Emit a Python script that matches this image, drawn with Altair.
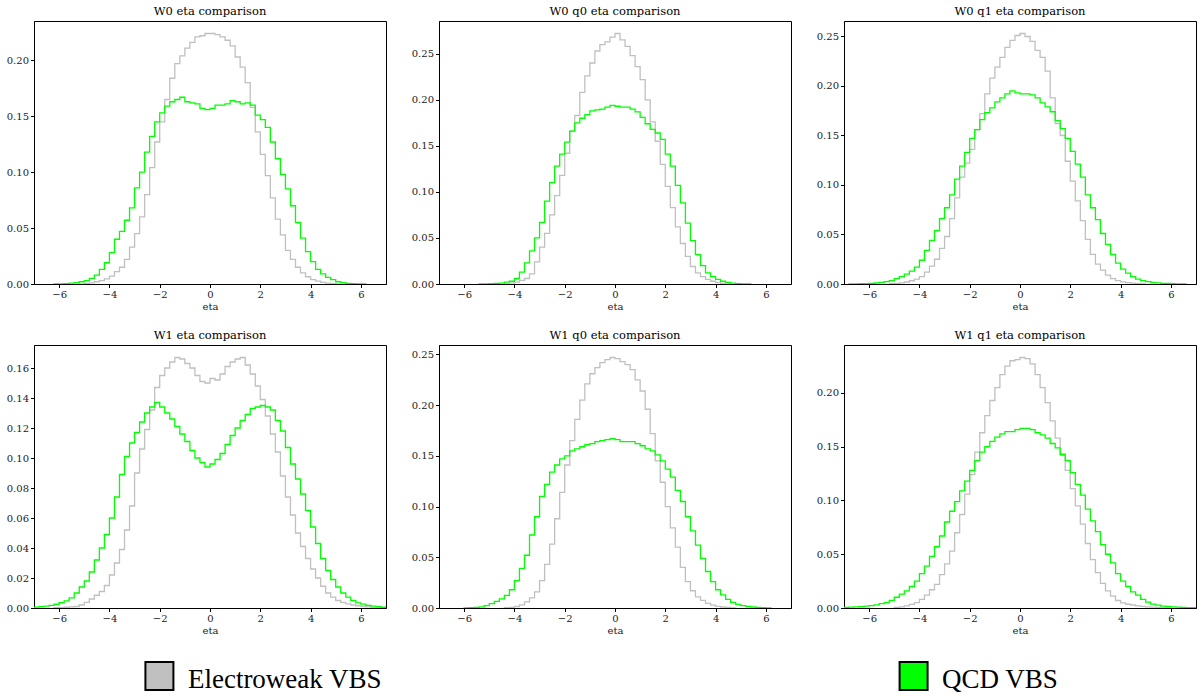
import altair as alt
import pandas as pd

# ---------------- data ----------------
BIN_START = -7.0
BIN_WIDTH = 0.2

PANEL_TITLES = [
    "W0 eta comparison", "W0 q0 eta comparison", "W0 q1 eta comparison",
    "W1 eta comparison", "W1 q0 eta comparison", "W1 q1 eta comparison",
]
SERIES = ["Electroweak VBS", "QCD VBS"]
COLORS = ["#c0c0c0", "#00ff00"]
X_TICKS = [-6, -4, -2, 0, 2, 4, 6]
Y_TICKS = [
    [0.0, 0.05, 0.10, 0.15, 0.20],
    [0.0, 0.05, 0.10, 0.15, 0.20, 0.25],
    [0.0, 0.05, 0.10, 0.15, 0.20, 0.25],
    [0.0, 0.02, 0.04, 0.06, 0.08, 0.10, 0.12, 0.14, 0.16],
    [0.0, 0.05, 0.10, 0.15, 0.20, 0.25],
    [0.0, 0.05, 0.10, 0.15, 0.20],
]

# 70 bins of width 0.2 from -7 to 7 (rows of 10 bins)
ew_w0 = [
    0, 0, 0, 0, 0, 0, 0, 0, 0, 0.0002,
    0.0005, 0.001, 0.002, 0.003, 0.0045, 0.007, 0.011, 0.015, 0.022, 0.033,
    0.045, 0.060, 0.080, 0.104, 0.127, 0.145, 0.165, 0.184, 0.197, 0.204,
    0.211, 0.216, 0.221, 0.222, 0.224, 0.224, 0.223, 0.221, 0.218, 0.213,
    0.203, 0.194, 0.180, 0.158, 0.136, 0.116, 0.097, 0.077, 0.058, 0.044,
    0.030, 0.022, 0.015, 0.010, 0.0065, 0.004, 0.0025, 0.0015, 0.0008, 0.0004,
    0.0002, 0, 0, 0, 0, 0, 0, 0, 0, 0,
]
qcd_w0 = [
    0, 0, 0, 0, 0.0001, 0.0002, 0.0004, 0.0007, 0.0012, 0.002,
    0.003, 0.005, 0.008, 0.013, 0.019, 0.028, 0.040, 0.047, 0.057, 0.068,
    0.086, 0.100, 0.118, 0.132, 0.145, 0.153, 0.159, 0.163, 0.165, 0.167,
    0.163, 0.162, 0.161, 0.157, 0.156, 0.157, 0.160, 0.160, 0.161, 0.164,
    0.163, 0.161, 0.162, 0.160, 0.151, 0.147, 0.140, 0.127, 0.112, 0.098,
    0.085, 0.070, 0.055, 0.041, 0.029, 0.020, 0.013, 0.009, 0.006, 0.004,
    0.002, 0.0012, 0.0006, 0.0003, 0.0002, 0.0001, 0, 0, 0, 0,
]
ew_w0q0 = [
    0, 0, 0, 0, 0, 0, 0, 0, 0, 0,
    0, 0, 0, 0.0003, 0.001, 0.002, 0.004, 0.006, 0.011, 0.024,
    0.040, 0.055, 0.075, 0.096, 0.118, 0.142, 0.166, 0.183, 0.208, 0.226,
    0.240, 0.253, 0.260, 0.263, 0.268, 0.272, 0.265, 0.258, 0.248, 0.236,
    0.222, 0.200, 0.176, 0.155, 0.130, 0.106, 0.083, 0.062, 0.044, 0.030,
    0.019, 0.012, 0.008, 0.005, 0.003, 0.0015, 0.0007, 0.0003, 0, 0,
    0, 0, 0, 0, 0, 0, 0, 0, 0, 0,
]
qcd_w0q0 = [
    0, 0, 0, 0, 0, 0, 0, 0, 0.0001, 0.0002,
    0.0004, 0.0007, 0.001, 0.002, 0.003, 0.006, 0.013, 0.023, 0.036, 0.050,
    0.067, 0.090, 0.110, 0.128, 0.141, 0.154, 0.166, 0.175, 0.180, 0.184,
    0.188, 0.189, 0.190, 0.192, 0.194, 0.193, 0.192, 0.192, 0.190, 0.187,
    0.181, 0.174, 0.168, 0.164, 0.157, 0.141, 0.128, 0.107, 0.088, 0.066,
    0.047, 0.032, 0.020, 0.012, 0.008, 0.005, 0.003, 0.0018, 0.001, 0.0005,
    0.0002, 0.0001, 0, 0, 0, 0, 0, 0, 0, 0,
]
ew_w0q1 = [
    0, 0, 0, 0, 0, 0, 0, 0, 0, 0.0003,
    0.0006, 0.0012, 0.002, 0.0033, 0.005, 0.0075, 0.012, 0.018, 0.025, 0.036,
    0.048, 0.066, 0.087, 0.108, 0.122, 0.136, 0.156, 0.172, 0.192, 0.208,
    0.219, 0.229, 0.239, 0.246, 0.251, 0.253, 0.250, 0.245, 0.236, 0.229,
    0.215, 0.188, 0.162, 0.150, 0.124, 0.104, 0.084, 0.064, 0.045, 0.030,
    0.020, 0.014, 0.009, 0.0055, 0.0035, 0.0022, 0.0013, 0.0008, 0.0004, 0.0002,
    0, 0, 0, 0, 0, 0, 0, 0, 0, 0,
]
qcd_w0q1 = [
    0, 0.0001, 0.0002, 0.0003, 0.0004, 0.0006, 0.001, 0.0016, 0.0025, 0.0035,
    0.0055, 0.0075, 0.010, 0.013, 0.017, 0.024, 0.034, 0.044, 0.054, 0.066,
    0.077, 0.090, 0.106, 0.119, 0.133, 0.147, 0.156, 0.166, 0.173, 0.178,
    0.184, 0.188, 0.192, 0.195, 0.193, 0.192, 0.192, 0.191, 0.188, 0.183,
    0.179, 0.174, 0.165, 0.157, 0.147, 0.134, 0.121, 0.108, 0.090, 0.077,
    0.065, 0.051, 0.040, 0.030, 0.021, 0.015, 0.011, 0.0075, 0.005, 0.0035,
    0.0025, 0.0017, 0.0011, 0.0007, 0.0005, 0.0003, 0.0002, 0.0001, 0, 0,
]
ew_w1 = [
    0, 0, 0, 0, 0.0002, 0.0003, 0.0005, 0.0007, 0.001, 0.002,
    0.0038, 0.006, 0.0085, 0.011, 0.015, 0.022, 0.030, 0.039, 0.052, 0.068,
    0.090, 0.106, 0.119, 0.132, 0.147, 0.155, 0.160, 0.164, 0.167, 0.166,
    0.163, 0.160, 0.155, 0.151, 0.150, 0.153, 0.152, 0.156, 0.161, 0.164,
    0.166, 0.167, 0.162, 0.156, 0.148, 0.139, 0.128, 0.116, 0.104, 0.088,
    0.074, 0.062, 0.050, 0.041, 0.033, 0.026, 0.020, 0.0145, 0.010, 0.0072,
    0.005, 0.0038, 0.0028, 0.002, 0.0015, 0.001, 0.0007, 0.0004, 0.0002, 0,
]
qcd_w1 = [
    0.0006, 0.0009, 0.0012, 0.0018, 0.0025, 0.0035, 0.0048, 0.0067, 0.010, 0.014,
    0.018, 0.024, 0.032, 0.040, 0.049, 0.060, 0.074, 0.089, 0.101, 0.110,
    0.117, 0.124, 0.130, 0.134, 0.137, 0.134, 0.130, 0.126, 0.121, 0.116,
    0.111, 0.105, 0.100, 0.097, 0.094, 0.096, 0.099, 0.103, 0.109, 0.115,
    0.120, 0.125, 0.129, 0.133, 0.134, 0.135, 0.134, 0.132, 0.125, 0.118,
    0.107, 0.096, 0.086, 0.076, 0.065, 0.054, 0.043, 0.033, 0.025, 0.019,
    0.014, 0.010, 0.0072, 0.005, 0.0034, 0.0026, 0.0017, 0.0012, 0.0009, 0.0005,
]
ew_w1q0 = [
    0, 0, 0, 0, 0, 0, 0, 0, 0, 0,
    0, 0, 0, 0.0003, 0.0007, 0.0015, 0.003, 0.006, 0.010, 0.016,
    0.027, 0.043, 0.063, 0.088, 0.114, 0.141, 0.165, 0.186, 0.205, 0.221,
    0.231, 0.237, 0.242, 0.245, 0.247, 0.246, 0.243, 0.240, 0.235, 0.225,
    0.214, 0.196, 0.172, 0.145, 0.124, 0.100, 0.079, 0.060, 0.040, 0.026,
    0.017, 0.011, 0.0075, 0.0045, 0.0028, 0.0017, 0.001, 0.0005, 0.0002, 0,
    0, 0, 0, 0, 0, 0, 0, 0, 0, 0,
]
qcd_w1q0 = [
    0, 0, 0, 0, 0, 0.0002, 0.0004, 0.0007, 0.0012, 0.0023,
    0.0043, 0.0065, 0.009, 0.0125, 0.018, 0.027, 0.039, 0.052, 0.072, 0.090,
    0.110, 0.122, 0.134, 0.141, 0.147, 0.150, 0.155, 0.157, 0.159, 0.161,
    0.162, 0.164, 0.165, 0.166, 0.167, 0.166, 0.164, 0.164, 0.164, 0.162,
    0.160, 0.157, 0.155, 0.151, 0.145, 0.137, 0.129, 0.116, 0.105, 0.090,
    0.076, 0.062, 0.049, 0.036, 0.026, 0.018, 0.013, 0.0085, 0.0055, 0.0035,
    0.0024, 0.0015, 0.001, 0.0006, 0.0003, 0.0001, 0, 0, 0, 0,
]
ew_w1q1 = [
    0, 0, 0, 0, 0, 0, 0, 0, 0, 0,
    0.0005, 0.001, 0.002, 0.0033, 0.005, 0.008, 0.012, 0.017, 0.022, 0.031,
    0.041, 0.053, 0.070, 0.087, 0.106, 0.124, 0.145, 0.163, 0.179, 0.193,
    0.205, 0.217, 0.225, 0.230, 0.231, 0.233, 0.232, 0.227, 0.217, 0.205,
    0.191, 0.174, 0.158, 0.142, 0.128, 0.111, 0.095, 0.078, 0.060, 0.045,
    0.033, 0.023, 0.016, 0.011, 0.007, 0.0048, 0.0035, 0.0028, 0.002, 0.0015,
    0.0011, 0.0008, 0.0006, 0.0004, 0.0002, 0, 0, 0, 0, 0,
]
qcd_w1q1 = [
    0.0006, 0.0008, 0.001, 0.0013, 0.0017, 0.0022, 0.003, 0.004, 0.005, 0.007,
    0.010, 0.013, 0.016, 0.020, 0.025, 0.032, 0.039, 0.048, 0.057, 0.067,
    0.080, 0.090, 0.099, 0.109, 0.118, 0.128, 0.137, 0.145, 0.150, 0.155,
    0.159, 0.162, 0.164, 0.164, 0.166, 0.167, 0.167, 0.166, 0.163, 0.161,
    0.158, 0.153, 0.149, 0.143, 0.137, 0.126, 0.115, 0.105, 0.092, 0.081,
    0.071, 0.059, 0.050, 0.042, 0.032, 0.025, 0.020, 0.015, 0.012, 0.008,
    0.0055, 0.0036, 0.0027, 0.0018, 0.0014, 0.0011, 0.0009, 0.0006, 0.0004, 0.0003,
]

EW = [ew_w0, ew_w0q0, ew_w0q1, ew_w1, ew_w1q0, ew_w1q1]
QCD = [qcd_w0, qcd_w0q0, qcd_w0q1, qcd_w1, qcd_w1q0, qcd_w1q1]

# ---------------- styling ----------------
FONT = "DejaVu Serif"
PANEL_W = 352
PANEL_H = 263


def outline(values, name):
    """Vertices of a step-histogram outline (matplotlib histtype='step')."""
    nz = [i for i, v in enumerate(values) if v > 0]
    lo, hi = nz[0], nz[-1]
    rows = []
    k = 0
    left = BIN_START + lo * BIN_WIDTH
    rows.append({"x": left, "y": 0.0, "series": name, "k": k})
    k += 1
    right = left
    for i in range(lo, hi + 1):
        a = BIN_START + i * BIN_WIDTH
        right = a + BIN_WIDTH
        rows.append({"x": a, "y": values[i], "series": name, "k": k})
        k += 1
        rows.append({"x": right, "y": values[i], "series": name, "k": k})
        k += 1
    rows.append({"x": right, "y": 0.0, "series": name, "k": k})
    return rows


def panel(i):
    assert len(EW[i]) == 70 and len(QCD[i]) == 70
    df = pd.DataFrame(outline(EW[i], SERIES[0]) + outline(QCD[i], SERIES[1]))
    ymax = max(max(EW[i]), max(QCD[i])) * 1.05
    return alt.Chart(df).mark_line(strokeWidth=1.3, clip=True).encode(
        x=alt.X(
            "x:Q",
            scale=alt.Scale(domain=[-7, 7], nice=False, zero=False),
            axis=alt.Axis(values=X_TICKS, format="d", title="eta", grid=False),
        ),
        y=alt.Y(
            "y:Q",
            scale=alt.Scale(domain=[0, ymax], nice=False),
            axis=alt.Axis(values=Y_TICKS[i], format=".2f", title=None, grid=False),
        ),
        color=alt.Color("series:N", scale=alt.Scale(domain=SERIES, range=COLORS), legend=None),
        order=alt.Order("k:Q"),
    ).properties(
        width=PANEL_W,
        height=PANEL_H,
        title=alt.TitleParams(PANEL_TITLES[i]),
    )


row1 = alt.hconcat(panel(0), panel(1), panel(2), spacing=23)
row2 = alt.hconcat(panel(3), panel(4), panel(5), spacing=23)

legend_df = pd.DataFrame({"name": SERIES})
legend_x = alt.X("name:N", scale=alt.Scale(type="point", domain=SERIES, padding=0.1663), axis=None)
legend_color = alt.Color("name:N", scale=alt.Scale(domain=SERIES, range=COLORS), legend=None)
squares = alt.Chart(legend_df).mark_square(
    size=784, filled=True, stroke="black", strokeWidth=2, opacity=1
).encode(x=legend_x, y=alt.value(22), fill=legend_color)
labels = alt.Chart(legend_df).mark_text(
    align="left", baseline="alphabetic", dx=28.5, dy=12,
    font="Liberation Serif", fontSize=27, color="black",
).encode(x=legend_x, y=alt.value(22), text="name:N")
legend = alt.layer(squares, labels).properties(
    width=1005, height=44, view=alt.ViewBackground(stroke="transparent")
)

chart = alt.vconcat(row1, row2, legend, spacing=17).configure_view(
    stroke="black", strokeWidth=1
).configure_axis(
    labelFont=FONT, titleFont=FONT, labelFontSize=10, titleFontSize=10,
    titleFontWeight="normal",
    labelColor="#222", titleColor="#222", domainColor="black", tickColor="black",
    domainWidth=1, tickWidth=1, tickSize=3.5, labelPadding=2, titlePadding=2,
).configure_title(
    font=FONT, fontSize=11.5, fontWeight="normal", color="black", offset=4, anchor="middle",
).properties(background="white", padding=5)

chart.save("out.html", embed_options={"renderer": "svg", "actions": False})
